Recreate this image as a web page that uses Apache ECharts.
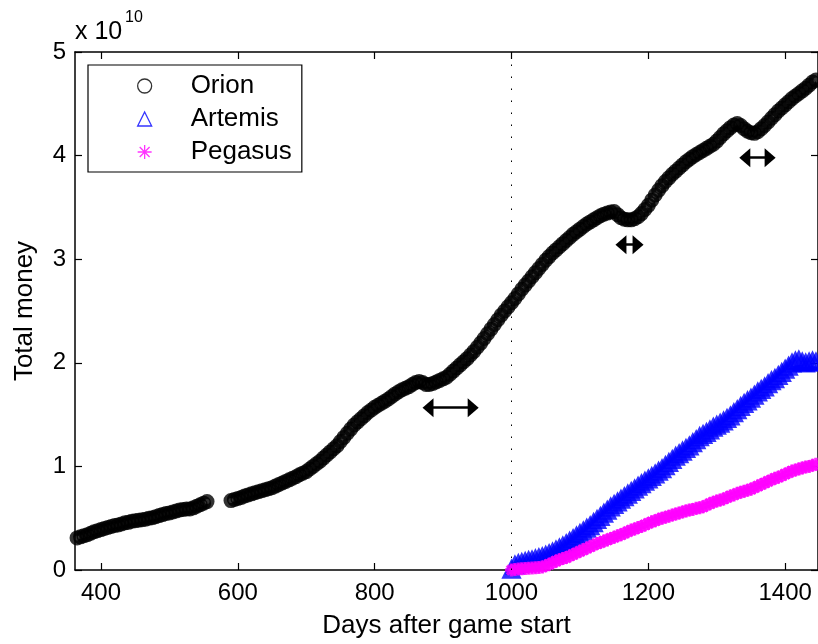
<!DOCTYPE html>
<html>
<head>
<meta charset="utf-8">
<title>Total money</title>
<script src="https://cdn.jsdelivr.net/npm/echarts@6/dist/echarts.min.js"></script>
<style>
  html, body { margin: 0; padding: 0; background: #ffffff; }
  #chart { width: 818px; height: 644px; }
</style>
</head>
<body>
<div id="chart"></div>
<script>
// Sampling: one reading every 5 days.
const SAMPLE_STEP = 5;

// Orion, first stretch (days 365 .. 555), values in units of 1e10
const orionEarlyStart = 365;
const orionEarly = [
  0.31, 0.32, 0.33, 0.34, 0.355, 0.37, 0.38, 0.39, 0.40, 0.41,
  0.42, 0.43, 0.435, 0.445, 0.455, 0.46, 0.47, 0.475, 0.48, 0.485,
  0.49, 0.50, 0.505, 0.515, 0.525, 0.535, 0.545, 0.55, 0.56, 0.57,
  0.58, 0.585, 0.59, 0.59, 0.60, 0.615, 0.63, 0.645, 0.66
];

// Orion, second stretch (days 590 .. 1445)
const orionLateStart = 590;
const orionLate = [
  0.67, 0.68, 0.69, 0.70, 0.715, 0.725, 0.735, 0.745, 0.755, 0.765,
  0.775, 0.785, 0.795, 0.81, 0.825, 0.84, 0.855, 0.87, 0.885, 0.90,
  0.92, 0.935, 0.95, 0.975, 1.0, 1.025, 1.05, 1.08, 1.11, 1.14,
  1.17, 1.20, 1.24, 1.28, 1.32, 1.36, 1.40, 1.43, 1.46, 1.49,
  1.52, 1.545, 1.57, 1.59, 1.61, 1.63, 1.65, 1.675, 1.70, 1.72,
  1.74, 1.755, 1.77, 1.79, 1.81, 1.82, 1.81, 1.79, 1.79, 1.80,
  1.815, 1.83, 1.845, 1.86, 1.89, 1.92, 1.95, 1.98, 2.01, 2.04,
  2.075, 2.11, 2.15, 2.19, 2.235, 2.28, 2.325, 2.37, 2.415, 2.46,
  2.50, 2.54, 2.58, 2.62, 2.665, 2.71, 2.75, 2.79, 2.83, 2.87,
  2.91, 2.95, 2.99, 3.025, 3.06, 3.09, 3.12, 3.15, 3.18, 3.21,
  3.24, 3.265, 3.29, 3.315, 3.34, 3.36, 3.38, 3.40, 3.42, 3.435,
  3.445, 3.455, 3.46, 3.43, 3.40, 3.385, 3.38, 3.38, 3.39, 3.41,
  3.44, 3.48, 3.52, 3.57, 3.62, 3.665, 3.71, 3.75, 3.785, 3.82,
  3.85, 3.88, 3.91, 3.94, 3.965, 3.99, 4.01, 4.03, 4.05, 4.07,
  4.09, 4.11, 4.14, 4.175, 4.21, 4.24, 4.27, 4.295, 4.31, 4.29,
  4.26, 4.235, 4.22, 4.215, 4.23, 4.26, 4.29, 4.325, 4.36, 4.395,
  4.43, 4.46, 4.49, 4.52, 4.55, 4.575, 4.60, 4.625, 4.65, 4.68,
  4.71, 4.73
];

// Artemis (days 1000 .. 1445)
const artemisStart = 1000;
const artemis = [
  0.0, 0.04, 0.055, 0.065, 0.075, 0.085, 0.09, 0.10, 0.11, 0.12,
  0.135, 0.15, 0.165, 0.185, 0.205, 0.225, 0.245, 0.27, 0.295, 0.32,
  0.345, 0.37, 0.395, 0.42, 0.45, 0.48, 0.51, 0.54, 0.57, 0.60,
  0.625, 0.65, 0.675, 0.70, 0.725, 0.75, 0.775, 0.80, 0.825, 0.85,
  0.87, 0.895, 0.92, 0.945, 0.97, 1.0, 1.03, 1.06, 1.09, 1.115,
  1.14, 1.165, 1.19, 1.22, 1.25, 1.28, 1.30, 1.32, 1.345, 1.37,
  1.39, 1.41, 1.43, 1.455, 1.48, 1.51, 1.54, 1.57, 1.60, 1.625,
  1.65, 1.68, 1.71, 1.735, 1.76, 1.79, 1.82, 1.84, 1.87, 1.90,
  1.93, 1.96, 1.99, 2.01, 2.02, 2.0, 1.99, 2.0, 2.01, 2.0
];

// Pegasus (days 1000 .. 1445)
const pegasusStart = 1000;
const pegasus = [
  0.0, 0.005, 0.01, 0.012, 0.015, 0.018, 0.02, 0.022, 0.025, 0.03,
  0.04, 0.055, 0.07, 0.085, 0.10, 0.11, 0.12, 0.135, 0.15, 0.165,
  0.18, 0.195, 0.21, 0.225, 0.24, 0.255, 0.265, 0.28, 0.29, 0.305,
  0.315, 0.33, 0.34, 0.355, 0.37, 0.385, 0.395, 0.41, 0.42, 0.435,
  0.45, 0.465, 0.475, 0.49, 0.50, 0.51, 0.52, 0.53, 0.54, 0.55,
  0.56, 0.57, 0.58, 0.585, 0.595, 0.60, 0.61, 0.625, 0.64, 0.655,
  0.665, 0.675, 0.685, 0.70, 0.715, 0.725, 0.74, 0.75, 0.76, 0.77,
  0.78, 0.795, 0.81, 0.825, 0.84, 0.855, 0.87, 0.885, 0.895, 0.91,
  0.925, 0.94, 0.955, 0.965, 0.975, 0.985, 0.995, 1.0, 1.01, 1.02
];

// Axis ticks
const xTicks = [400, 600, 800, 1000, 1200, 1400];
const yTicks = [0, 1, 2, 3, 4, 5];

// Double-headed arrow annotations: [left day, right day, value]
const arrowMarks = [
  [878, 944, 1.567],
  [1160, 1185, 3.14],
  [1341, 1378, 3.98],
  [1431, 1500, 1.78]
];

// Day separating the two phases
const phaseDay = 1000;

const seriesNames = ['Orion', 'Artemis', 'Pegasus'];
const seriesColors = ['#000000', '#0000ff', '#ff00ff'];

function toPoints(start, values) {
  return values.map((v, i) => [start + i * SAMPLE_STEP, v]);
}

const ASTERISK = 'path://M0 -10 L0 10 M-10 0 L10 0 M-7.07 -7.07 L7.07 7.07 M-7.07 7.07 L7.07 -7.07';
const FONT = '"Liberation Sans", Arial, Helvetica, sans-serif';

const chart = echarts.init(document.getElementById('chart'), null, { renderer: 'canvas' });

const axisLineStyle = { color: '#000', width: 1.5 };
const tickStyle = { color: '#000', width: 1.2 };

const option = {
  animation: false,
  backgroundColor: '#ffffff',
  textStyle: { fontFamily: FONT, color: '#000' },
  grid: { left: 75, right: -1, top: 52, bottom: 72, containLabel: false },
  xAxis: [
    {
      type: 'value', position: 'bottom', min: 362, max: 1448,
      name: 'Days after game start', nameLocation: 'middle', nameGap: 43,
      nameTextStyle: { fontSize: 26, color: '#000', fontFamily: FONT },
      axisLine: { show: true, onZero: false, lineStyle: axisLineStyle },
      axisTick: { show: true, inside: true, length: 7, lineStyle: tickStyle, customValues: xTicks },
      axisLabel: { show: true, margin: 11, fontSize: 24, color: '#000', fontFamily: FONT,
                   customValues: xTicks, formatter: v => String(v) },
      splitLine: { show: false }
    },
    {
      type: 'value', position: 'top', min: 362, max: 1448,
      axisLine: { show: true, onZero: false, lineStyle: axisLineStyle },
      axisTick: { show: true, inside: true, length: 7, lineStyle: tickStyle, customValues: xTicks },
      axisLabel: { show: false },
      splitLine: { show: false }
    }
  ],
  yAxis: [
    {
      type: 'value', position: 'left', min: 0, max: 5, interval: 1,
      name: 'Total money', nameLocation: 'middle', nameGap: 37,
      nameTextStyle: { fontSize: 26, color: '#000', fontFamily: FONT },
      axisLine: { show: true, onZero: false, lineStyle: axisLineStyle },
      axisTick: { show: true, inside: true, length: 7, lineStyle: tickStyle },
      axisLabel: { show: true, margin: 9, fontSize: 24, color: '#000', fontFamily: FONT,
                   customValues: yTicks, formatter: v => String(v) },
      splitLine: { show: false }
    },
    {
      type: 'value', position: 'right', min: 0, max: 5, interval: 1,
      axisLine: { show: true, onZero: false, lineStyle: axisLineStyle },
      axisTick: { show: true, inside: true, length: 7, lineStyle: tickStyle },
      axisLabel: { show: false },
      splitLine: { show: false }
    }
  ],
  legend: {
    orient: 'vertical',
    left: 88, top: 65,
    padding: [8, 10, 7, 49],
    itemWidth: 14, itemHeight: 14, itemGap: 7,
    backgroundColor: '#ffffff',
    borderColor: '#000', borderWidth: 1.2, borderRadius: 0,
    textStyle: { fontSize: 26, color: '#000', fontFamily: FONT, padding: [0, 0, 0, 34] },
    selectedMode: false,
    data: [
      { name: seriesNames[0], icon: 'circle',
        itemStyle: { color: 'transparent', borderColor: seriesColors[0], borderWidth: 1.3 } },
      { name: seriesNames[1], icon: 'triangle',
        itemStyle: { color: 'transparent', borderColor: seriesColors[1], borderWidth: 1.3 } },
      { name: seriesNames[2], icon: ASTERISK,
        itemStyle: { color: 'transparent', borderColor: seriesColors[2], borderWidth: 1.3 } }
    ]
  },
  graphic: [
    { type: 'text', left: 75, top: 20, silent: true,
      style: { text: 'x 10', fontSize: 25, fontFamily: FONT, fill: '#000' } },
    { type: 'text', left: 125, top: 10, silent: true,
      style: { text: '10', fontSize: 16, fontFamily: FONT, fill: '#000' } }
  ],
  series: [
    {
      name: seriesNames[0], type: 'scatter',
      data: toPoints(orionEarlyStart, orionEarly).concat(toPoints(orionLateStart, orionLate)),
      symbol: 'circle', symbolSize: 10,
      itemStyle: { color: 'transparent', borderColor: seriesColors[0], borderWidth: 5 },
      emphasis: { disabled: true },
      silent: true,
      z: 2,
      markLine: {
        silent: true,
        animation: false,
        label: { show: false },
        emphasis: { disabled: true },
        data: [
          [
            { coord: [phaseDay, 0], symbol: 'none' },
            { coord: [phaseDay, 5], symbol: 'none',
              lineStyle: { color: '#000', width: 1, type: [1.5, 10.5] } }
          ]
        ].concat(arrowMarks.map(a => [
          { coord: [a[0], a[2]], symbol: 'triangle', symbolSize: [19, 11] },
          { coord: [a[1], a[2]], symbol: 'triangle', symbolSize: [19, 11],
            lineStyle: { color: '#000', width: 2.5, type: 'solid' } }
        ])),
        lineStyle: { color: '#000', width: 2.5, type: 'solid' },
        symbol: ['triangle', 'triangle']
      }
    },
    {
      name: seriesNames[1], type: 'scatter',
      data: toPoints(artemisStart, artemis),
      symbol: 'triangle', symbolSize: 13,
      itemStyle: { color: 'transparent', borderColor: seriesColors[1], borderWidth: 4.5 },
      emphasis: { disabled: true },
      silent: true,
      z: 3
    },
    {
      name: seriesNames[2], type: 'scatter',
      data: toPoints(pegasusStart, pegasus),
      symbol: ASTERISK, symbolSize: 13,
      itemStyle: { color: 'transparent', borderColor: seriesColors[2], borderWidth: 3.5 },
      emphasis: { disabled: true },
      silent: true,
      z: 4
    }
  ]
};

chart.setOption(option);
</script>
</body>
</html>
